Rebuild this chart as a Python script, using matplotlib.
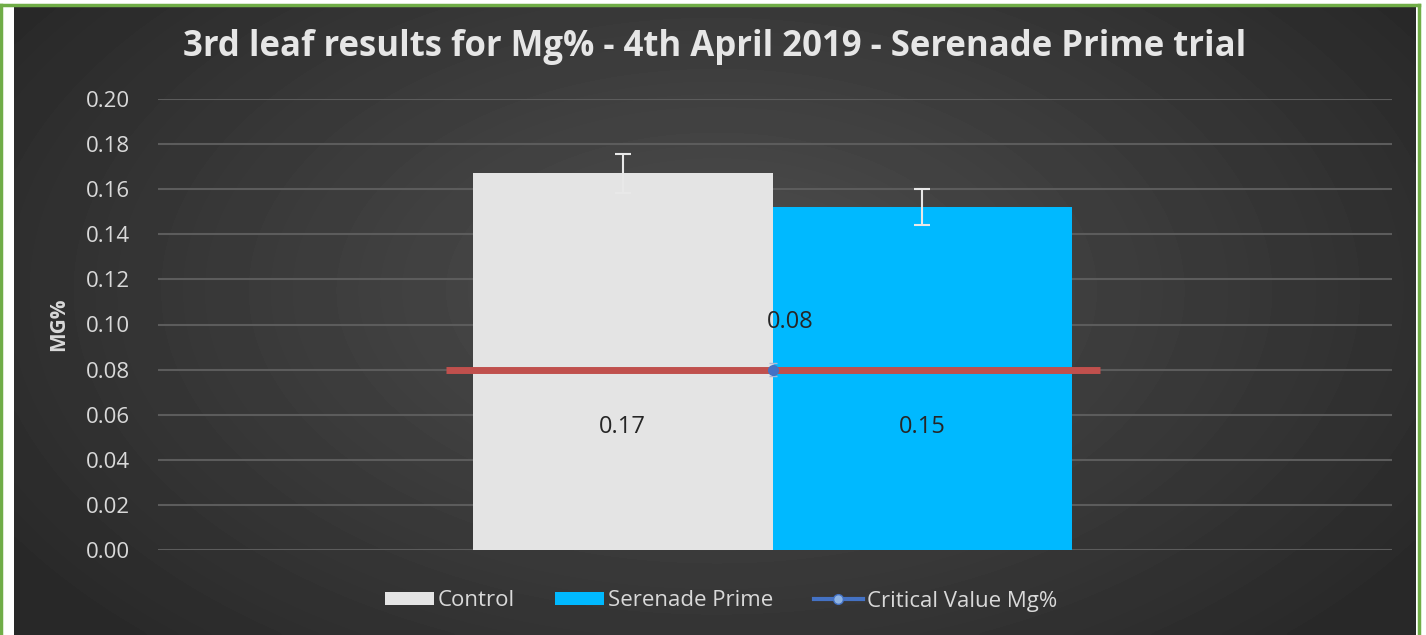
import numpy as np
import matplotlib.pyplot as plt
from matplotlib.patches import Patch
from matplotlib.lines import Line2D

# data
series = ["Control", "Serenade Prime"]
values = [0.167, 0.152]
errors = [0.0085, 0.008]
labels = ["0.17", "0.15"]
critical = 0.08
critical_name = "Critical Value Mg%"
yticks = [0.00, 0.02, 0.04, 0.06, 0.08, 0.10, 0.12, 0.14, 0.16, 0.18, 0.20]

bar_colors = ["#e4e4e4", "#00b9ff"]
txt = "#d9d9d9"

plt.rcParams['font.family'] = ['Open Sans', 'DejaVu Sans']

fig = plt.figure(figsize=(14.26, 6.35), dpi=100)
fig.patch.set_facecolor("white")

# green frame + dark radial background
frame = fig.add_axes([0, 0, 1, 1])
frame.set_xlim(0, 1426)
frame.set_ylim(635, 0)
frame.axis("off")
yy, xx = np.mgrid[0:200, 0:400]
r = np.sqrt(((xx - 200) / 200.0) ** 2 + ((yy - 90) / 130.0) ** 2)
shade = 0.31 - 0.15 * np.clip(r, 0, 1.2) / 1.2
frame.imshow(shade, cmap="gray", vmin=0, vmax=1, extent=[14, 1416, 635, 6],
             aspect="auto", interpolation="bicubic")
frame.plot([1, 1], [5, 635], color="#70ad47", lw=2.5)
frame.plot([1, 1419], [5, 5], color="#70ad47", lw=2.5)
frame.plot([1419, 1419], [5, 635], color="#70ad47", lw=2.5)

# plot area
ax = fig.add_axes([158 / 1426, 1 - 550 / 635, (1392 - 158) / 1426, (550 - 99) / 635])
ax.patch.set_alpha(0)
ax.set_xlim(-0.5, 0.5)
ax.set_ylim(0, 0.20)
ax.set_yticks(yticks)
ax.set_yticklabels(["%.2f" % t for t in yticks])
ax.tick_params(axis="y", colors=txt, labelsize=16, length=0, pad=20)
ax.set_xticks([])
for s in ax.spines.values():
    s.set_visible(False)
ax.grid(axis="y", color="#5c5c5c", lw=1.5)
ax.set_axisbelow(True)

w = 0.243
pos = [-0.002 - w / 2, -0.002 + w / 2]
ax.bar(pos, values, width=w, color=bar_colors, zorder=3)
ax.errorbar(pos, values, yerr=errors, fmt="none", ecolor="#e8e8e8",
            elinewidth=1.5, capsize=6, capthick=1.5, zorder=4)
for x, lab in zip(pos, labels):
    ax.text(x, 0.0545, lab, ha="center", va="center", fontsize=17,
            color="#262626", zorder=5)

ax.plot([-0.267, 0.263], [critical, critical], color="#c0504d", lw=5, zorder=5,
        solid_capstyle="butt")
ax.errorbar([-0.002], [critical], yerr=[0.003], fmt="o", color="#4472c4",
            ecolor="#aab8d8", ms=7, elinewidth=1, capsize=3, zorder=6)
ax.text(0.012, 0.101, "%.2f" % critical, ha="center", va="center", fontsize=17,
        color="#262626", zorder=6)

ax.set_ylabel("MG%", color=txt, fontsize=15, fontweight="bold", labelpad=12)

fig.text(715 / 1426, 1 - 47 / 635,
         "3rd leaf results for Mg% - 4th April 2019 - Serenade Prime trial",
         ha="center", va="center", fontsize=25, fontweight="bold",
         color="#e6e6e6")

handles = [Patch(facecolor=bar_colors[0]), Patch(facecolor=bar_colors[1]),
           Line2D([0], [0], color="#4472c4", lw=3, marker="o", ms=7,
                  markerfacecolor="#8fb4e3")]
leg = fig.legend(handles, series + [critical_name], loc="center",
                 bbox_to_anchor=(721 / 1426, 1 - 601 / 635), ncol=3,
                 frameon=False, fontsize=16, labelcolor=txt,
                 handlelength=2.2, handleheight=0.55, handletextpad=0.2,
                 columnspacing=1.8)

fig.savefig("out.png", dpi=100, facecolor=fig.get_facecolor())
